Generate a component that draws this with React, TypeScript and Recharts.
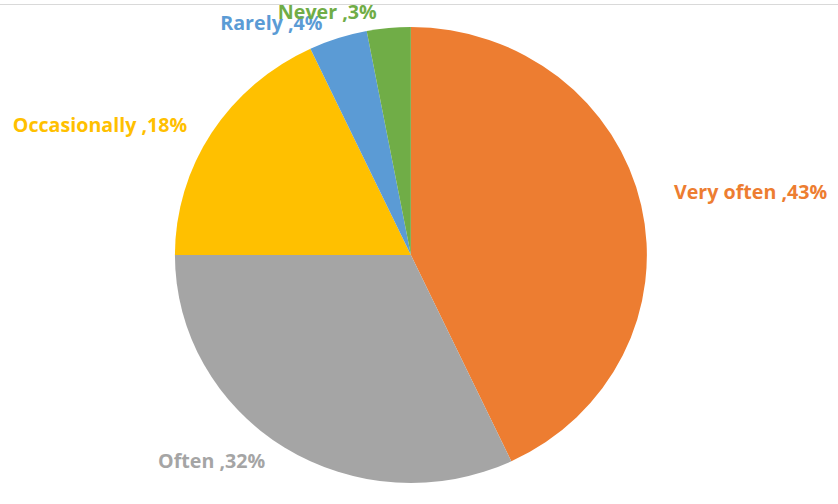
import { PieChart, Pie, Cell } from "recharts";

const categories = ["Very often", "Often", "Occasionally", "Rarely", "Never"];
const shares = [43, 32, 18, 4, 3];
const colors = ["#ED7D31", "#A5A5A5", "#FFC000", "#5B9BD5", "#70AD47"];

const data = categories.map((name, i) => ({ name, value: shares[i] }));

const RAD = Math.PI / 180;

// Excel-style outside labels: "Name ,NN%" in the slice colour
const renderLabel = (props: any) => {
  const { cx, cy, midAngle, outerRadius, index } = props;
  const cos = Math.cos(-midAngle * RAD);
  const sin = Math.sin(-midAngle * RAD);
  const r = outerRadius + 16;
  const right = cos > 0;
  const x = cx + r * cos + (right ? 16 : -10);
  const y = cy + r * sin + (right ? -10 : 0);
  return (
    <text
      x={x}
      y={y}
      fill={colors[index]}
      textAnchor={right ? "start" : "end"}
      dominantBaseline="central"
      fontFamily="'Open Sans', sans-serif"
      fontWeight={700}
      fontSize={19}
    >
      {`${categories[index]} ,${shares[index]}%`}
    </text>
  );
};

export default function App() {
  return (
    <div
      style={{
        position: "absolute",
        left: 0,
        top: 0,
        width: 838,
        height: 504,
        background: "#fff",
        overflow: "hidden",
      }}
    >
      <div
        style={{
          position: "absolute",
          left: 0,
          right: 0,
          top: 4,
          borderTop: "1px solid #d9d9d9",
        }}
      />
      <div style={{ transform: "scaleX(1.035)", transformOrigin: "0 0" }}>
        <PieChart width={810} height={504}>
          <Pie
            data={data}
            dataKey="value"
            cx={392}
            cy={250}
            outerRadius={228}
            startAngle={90}
            endAngle={-270}
            stroke="none"
            label={renderLabel}
            labelLine={false}
            isAnimationActive={false}
          >
            {data.map((d, i) => (
              <Cell key={d.name} fill={colors[i]} />
            ))}
          </Pie>
        </PieChart>
      </div>
    </div>
  );
}
